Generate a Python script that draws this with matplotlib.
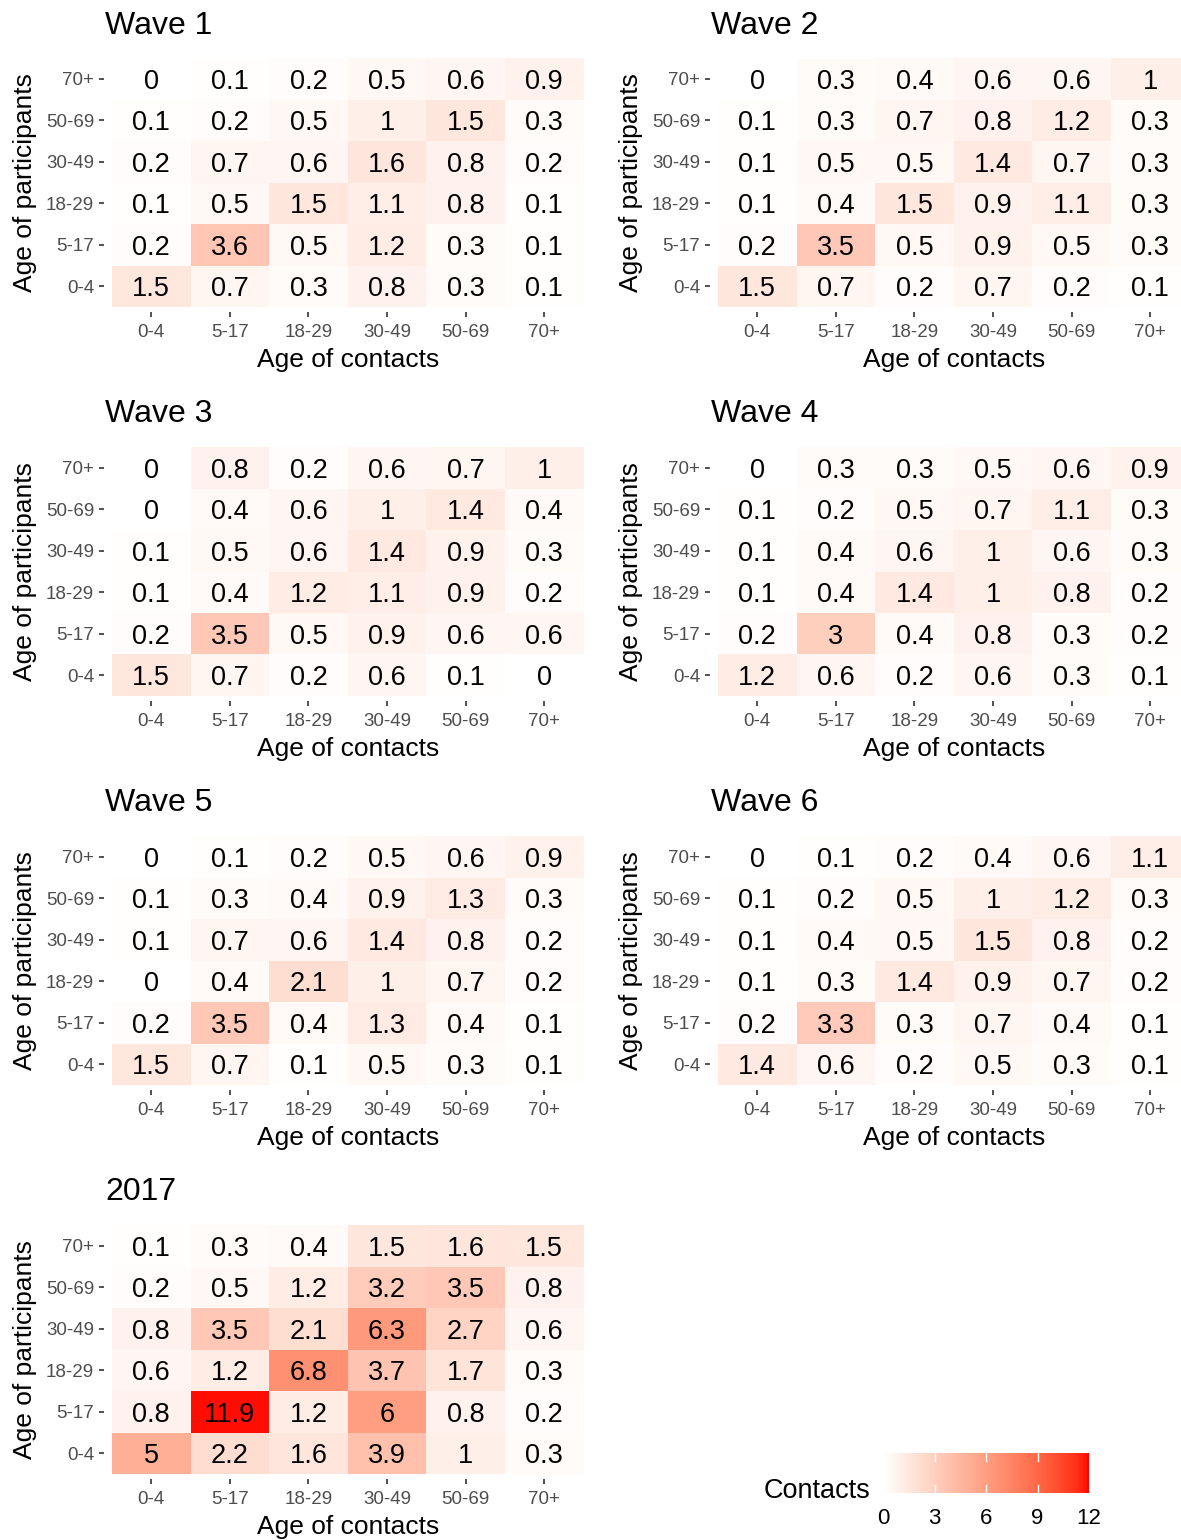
import numpy as np
import matplotlib
matplotlib.use('Agg')
import matplotlib.pyplot as plt
from matplotlib.colors import ListedColormap, Normalize
from matplotlib.cm import ScalarMappable

plt.rcParams['font.family'] = ['Liberation Sans', 'DejaVu Sans']

age_groups = ['0-4', '5-17', '18-29', '30-49', '50-69', '70+']

# rows: top row (70+) first, bottom row (0-4) last
wave1 = [[0, 0.1, 0.2, 0.5, 0.6, 0.9],
         [0.1, 0.2, 0.5, 1, 1.5, 0.3],
         [0.2, 0.7, 0.6, 1.6, 0.8, 0.2],
         [0.1, 0.5, 1.5, 1.1, 0.8, 0.1],
         [0.2, 3.6, 0.5, 1.2, 0.3, 0.1],
         [1.5, 0.7, 0.3, 0.8, 0.3, 0.1]]
wave2 = [[0, 0.3, 0.4, 0.6, 0.6, 1],
         [0.1, 0.3, 0.7, 0.8, 1.2, 0.3],
         [0.1, 0.5, 0.5, 1.4, 0.7, 0.3],
         [0.1, 0.4, 1.5, 0.9, 1.1, 0.3],
         [0.2, 3.5, 0.5, 0.9, 0.5, 0.3],
         [1.5, 0.7, 0.2, 0.7, 0.2, 0.1]]
wave3 = [[0, 0.8, 0.2, 0.6, 0.7, 1],
         [0, 0.4, 0.6, 1, 1.4, 0.4],
         [0.1, 0.5, 0.6, 1.4, 0.9, 0.3],
         [0.1, 0.4, 1.2, 1.1, 0.9, 0.2],
         [0.2, 3.5, 0.5, 0.9, 0.6, 0.6],
         [1.5, 0.7, 0.2, 0.6, 0.1, 0]]
wave4 = [[0, 0.3, 0.3, 0.5, 0.6, 0.9],
         [0.1, 0.2, 0.5, 0.7, 1.1, 0.3],
         [0.1, 0.4, 0.6, 1, 0.6, 0.3],
         [0.1, 0.4, 1.4, 1, 0.8, 0.2],
         [0.2, 3, 0.4, 0.8, 0.3, 0.2],
         [1.2, 0.6, 0.2, 0.6, 0.3, 0.1]]
wave5 = [[0, 0.1, 0.2, 0.5, 0.6, 0.9],
         [0.1, 0.3, 0.4, 0.9, 1.3, 0.3],
         [0.1, 0.7, 0.6, 1.4, 0.8, 0.2],
         [0, 0.4, 2.1, 1, 0.7, 0.2],
         [0.2, 3.5, 0.4, 1.3, 0.4, 0.1],
         [1.5, 0.7, 0.1, 0.5, 0.3, 0.1]]
wave6 = [[0, 0.1, 0.2, 0.4, 0.6, 1.1],
         [0.1, 0.2, 0.5, 1, 1.2, 0.3],
         [0.1, 0.4, 0.5, 1.5, 0.8, 0.2],
         [0.1, 0.3, 1.4, 0.9, 0.7, 0.2],
         [0.2, 3.3, 0.3, 0.7, 0.4, 0.1],
         [1.4, 0.6, 0.2, 0.5, 0.3, 0.1]]
survey2017 = [[0.1, 0.3, 0.4, 1.5, 1.6, 1.5],
              [0.2, 0.5, 1.2, 3.2, 3.5, 0.8],
              [0.8, 3.5, 2.1, 6.3, 2.7, 0.6],
              [0.6, 1.2, 6.8, 3.7, 1.7, 0.3],
              [0.8, 11.9, 1.2, 6, 0.8, 0.2],
              [5, 2.2, 1.6, 3.9, 1, 0.3]]

panels = [('Wave 1', wave1), ('Wave 2', wave2), ('Wave 3', wave3),
          ('Wave 4', wave4), ('Wave 5', wave5), ('Wave 6', wave6),
          ('2017', survey2017)]

color_ticks = [0, 3, 6, 9, 12]


def lab_to_rgb(L, a, b):
    fy = (L + 16) / 116
    fx = fy + a / 500
    fz = fy - b / 200

    def finv(t):
        return np.where(t > 6 / 29, t ** 3, 3 * (6 / 29) ** 2 * (t - 4 / 29))
    X = 0.95047 * finv(fx)
    Y = finv(fy)
    Z = 1.08883 * finv(fz)
    r = 3.2406 * X - 1.5372 * Y - 0.4986 * Z
    g = -0.9689 * X + 1.8758 * Y + 0.0415 * Z
    bb = 0.0557 * X - 0.2040 * Y + 1.0570 * Z
    rgb = np.clip(np.stack([r, g, bb], axis=-1), 0, 1)
    return np.where(rgb > 0.0031308, 1.055 * rgb ** (1 / 2.4) - 0.055, 12.92 * rgb)


# white -> red, interpolated in Lab like ggplot's scale_fill_gradient
t = np.linspace(0, 1, 256)
white_lab = np.array([100.0, 0.0, 0.0])
red_lab = np.array([53.24, 80.09, 67.20])
lab = white_lab[None, :] + t[:, None] * (red_lab - white_lab)[None, :]
cmap = ListedColormap(lab_to_rgb(lab[:, 0], lab[:, 1], lab[:, 2]))
norm = Normalize(vmin=0, vmax=12)

W, H = 1181, 1540
fig = plt.figure(figsize=(W / 100, H / 100), dpi=100)


def px_axes(x0, y0, x1, y1):
    return fig.add_axes([x0 / W, 1 - y1 / H, (x1 - x0) / W, (y1 - y0) / H])


panel_w = 471.5
panel_h = 249
for i, (title, rows) in enumerate(panels):
    col = i % 2
    row = i // 2
    x0 = 112 + 606 * col
    y0 = 58 + 389 * row
    ax = px_axes(x0, y0, x0 + panel_w, y0 + panel_h)
    values = np.array(rows, dtype=float)[::-1]
    ax.pcolormesh(np.arange(7) - 0.5, np.arange(7) - 0.5, values,
                  cmap=cmap, norm=norm)
    for r in range(6):
        for c in range(6):
            ax.text(c, r, '{:g}'.format(values[r, c]), ha='center',
                    va='center_baseline', fontsize=19.5, color='black')
    ax.set_xlim(-0.5, 5.5)
    ax.set_ylim(-0.5, 5.5)
    ax.set_xticks(range(6))
    ax.set_yticks(range(6))
    ax.set_xticklabels(age_groups)
    ax.set_yticklabels(age_groups)
    ax.spines['left'].set_position(('outward', 5.8))
    ax.spines['bottom'].set_position(('outward', 3.6))
    ax.tick_params(axis='both', length=3.6, width=1.2, color='#333333',
                   labelsize=13.5, labelcolor='#4D4D4D', pad=3.5)
    ax.tick_params(axis='x', pad=5)
    for s in ax.spines.values():
        s.set_visible(False)
    fig.text((x0 - 7) / W, 1 - (y0 - 36) / H, title, fontsize=23,
             ha='left', va='center_baseline')
    fig.text((x0 + panel_w / 2) / W, 1 - (y0 + 302) / H, 'Age of contacts',
             fontsize=19, ha='center', va='center')
    fig.text((x0 - 87) / W, 1 - (y0 + panel_h / 2) / H, 'Age of participants',
             fontsize=19, ha='center', va='center', rotation=90)

# colour legend
cax = px_axes(883, 1453, 1089, 1493)
cb = fig.colorbar(ScalarMappable(norm=norm, cmap=cmap), cax=cax,
                  orientation='horizontal')
cb.outline.set_visible(False)
cb.set_ticks(color_ticks)
cb.set_ticklabels([str(v) for v in color_ticks])
cax.tick_params(length=0, labelsize=16, pad=10.5)
for v in color_ticks[1:-1]:
    cax.plot([v, v], [0, 0.2], color='white', lw=1)
    cax.plot([v, v], [0.8, 1], color='white', lw=1)
fig.text(817 / W, 1 - 1491 / H, 'Contacts', fontsize=19.5, ha='center',
         va='center')

fig.savefig('out.png', dpi=100)
